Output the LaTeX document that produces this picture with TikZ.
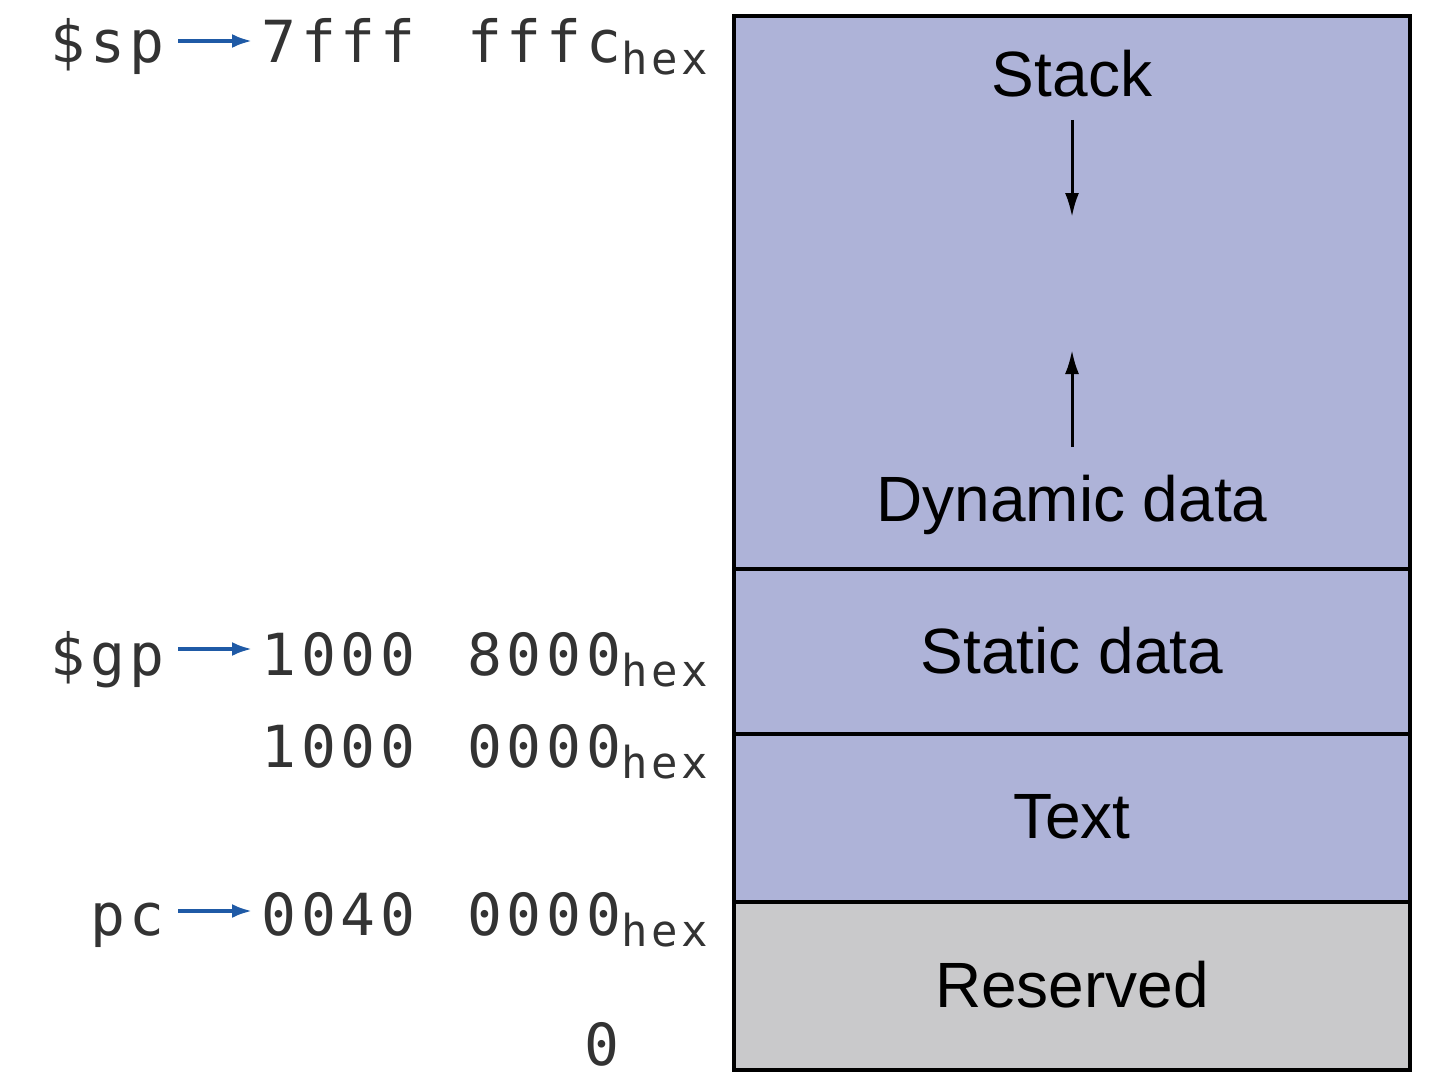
\documentclass[tikz,border=0pt]{standalone}
\usepackage{fontspec}
\setmainfont{Liberation Sans}
\newfontfamily\mono{DejaVu Sans Mono}[LetterSpace=8]
\usetikzlibrary{arrows.meta}
\definecolor{segblue}{HTML}{AEB3D8}
\definecolor{reserv}{HTML}{C9C9CB}
\definecolor{ptr}{HTML}{1F5AA6}
\newcommand{\hx}{\raisebox{-0.35ex}{\fontsize{22}{24}\selectfont hex}}
\begin{document}
\begin{tikzpicture}[x=0.5pt,y=-0.5pt,
  seg/.style={draw=black,line width=1.6pt},
  lbl/.style={font=\fontsize{32}{36}\selectfont,inner sep=0},
  addr/.style={font=\mono\fontsize{29}{34}\selectfont\color{black!80},inner sep=0,anchor=base east},
  reg/.style={font=\mono\fontsize{29}{34}\selectfont\color{black!80},inner sep=0,anchor=base east},
  parr/.style={-{Latex[length=10pt,width=7pt]},draw=ptr,line width=1.8pt},
  garr/.style={-{Latex[length=12pt,width=7pt]},line width=1.5pt}]
\useasboundingbox (0,0) rectangle (1445,1086);
\fill[segblue] (734,16) rectangle (1410,902);
\fill[reserv] (734,902) rectangle (1410,1070);
\draw[seg] (734,16) rectangle (1410,1070);
\draw[seg] (734,569) -- (1410,569);
\draw[seg] (734,734) -- (1410,734);
\draw[seg] (734,902) -- (1410,902);
\node[lbl] (stack) at (1072,74) {Stack};
\node[lbl] (dyn) at (1072,505) {Dynamic data};
\node[lbl] (stat) at (1072,651) {Static data};
\node[lbl] (text) at (1072,817) {Text};
\node[lbl] (res) at (1072,985) {Reserved};
\coordinate (d1) at (1072,120); \coordinate (d2) at (1072,217);
\coordinate (u1) at (1072,447); \coordinate (u2) at (1072,350);
\draw[garr] (d1) -- (d2);
\draw[garr] (u1) -- (u2);
\node[addr] (a1) at (708,63) {7fff\hspace{0.9em}fffc\hx};
\node[addr] (a2) at (708,675) {1000\hspace{0.9em}8000\hx};
\node[addr] (a3) at (708,767) {1000\hspace{0.9em}0000\hx};
\node[addr] (a4) at (708,935) {0040\hspace{0.9em}0000\hx};
\node[addr] (a5) at (620,1065) {0};
\node[reg] (sp) at (165,63) {\$sp};
\node[reg] (gp) at (165,675) {\$gp};
\node[reg] (pc) at (165,935) {pc};
\coordinate (s1) at (178,41); \coordinate (s2) at (252,41);
\coordinate (g1) at (178,649); \coordinate (g2) at (252,649);
\coordinate (p1) at (178,911); \coordinate (p2) at (252,911);
\draw[parr] (s1) -- (s2);
\draw[parr] (g1) -- (g2);
\draw[parr] (p1) -- (p2);
\end{tikzpicture}
\end{document}
